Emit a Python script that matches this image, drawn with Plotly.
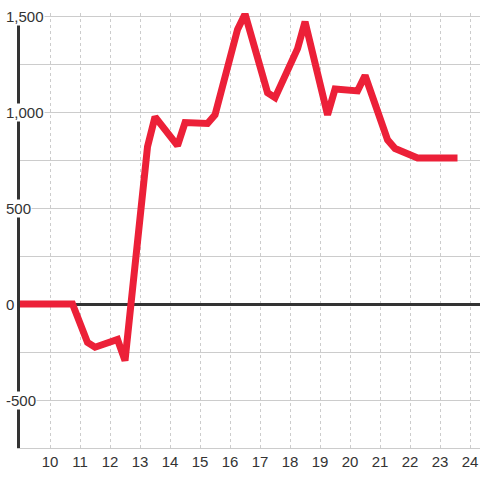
import plotly.graph_objects as go

# Data
hours = [9, 10.75, 11.25, 11.5, 12.25, 12.5, 13.25, 13.5, 14.25, 14.5, 15.25, 15.5,
         16.25, 16.5, 17.25, 17.5, 18.25, 18.5, 19.25, 19.5, 20.25, 20.5, 21.25,
         21.5, 22.25, 23.58]
values = [0, 0, -200, -225, -185, -295, 820, 975, 825, 945, 940, 985,
          1430, 1510, 1100, 1075, 1330, 1470, 985, 1120, 1110, 1190, 855,
          810, 760, 760]
y_tick_vals = [1500, 1000, 500, 0, -500]
y_tick_text = ["1,500", "1,000", "500", "0", "-500"]
x_tick_vals = list(range(10, 25))
x_tick_text = [str(v) for v in x_tick_vals]

fig = go.Figure()
fig.add_trace(go.Scatter(
    x=hours, y=values, mode="lines",
    line=dict(color="#ec2038", width=7),
    hoverinfo="skip",
))

annotations = []
for v, t in zip(y_tick_vals, y_tick_text):
    annotations.append(dict(
        x=0, xref="paper", y=v, yref="y", text=t, showarrow=False,
        xanchor="left", yanchor="middle", xshift=-15,
        font=dict(family="Liberation Sans, Arial, sans-serif", size=15, color="#333"),
        bgcolor="white", borderpad=0,
    ))

fig.update_layout(
    width=480, height=480,
    margin=dict(l=20, r=0, t=13, b=32),
    paper_bgcolor="white", plot_bgcolor="white",
    showlegend=False,
    annotations=annotations,
    xaxis=dict(
        range=[9, 24.33],
        tickvals=x_tick_vals, ticktext=x_tick_text,
        showgrid=True, gridcolor="#cccccc", griddash="3px,3px", gridwidth=1,
        showline=True, linecolor="#cccccc", linewidth=1,
        zeroline=False, ticks="",
        tickfont=dict(family="Liberation Sans, Arial, sans-serif", size=15, color="#333"),
    ),
    yaxis=dict(
        range=[-750, 1515.6],
        tickvals=[1500, 1250, 1000, 750, 500, 250, 0, -250, -500, -750],
        showgrid=True, gridcolor="#cccccc", gridwidth=1,
        showticklabels=False, ticks="",
        zeroline=True, zerolinecolor="#333333", zerolinewidth=3,
        showline=True, linecolor="#333333", linewidth=3,
    ),
)

fig.write_html(
    "out.html",
    config={"displayModeBar": False},
    post_script="document.body.style.margin='0';document.body.style.padding='0';",
)
